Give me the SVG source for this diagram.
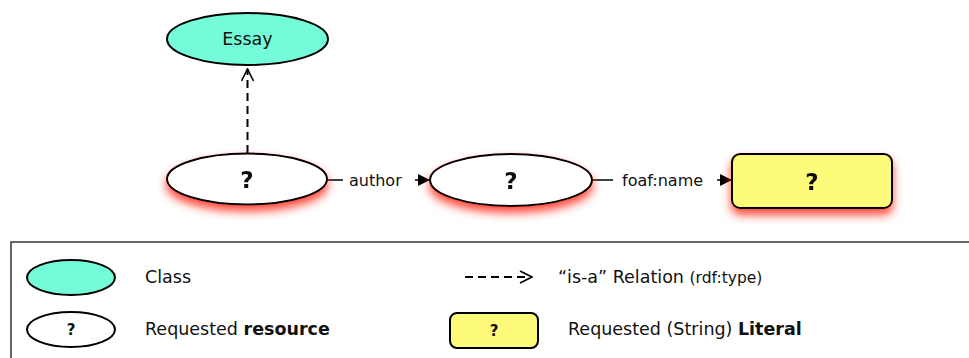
<svg xmlns="http://www.w3.org/2000/svg" width="969" height="358" viewBox="0 0 969 358">
<defs>
<filter id="glow" x="-20%" y="-40%" width="140%" height="200%">
<feGaussianBlur in="SourceAlpha" stdDeviation="5"/>
<feOffset dx="0" dy="6" result="b"/>
<feFlood flood-color="#ff2a1a" flood-opacity="0.85"/>
<feComposite in2="b" operator="in" result="s"/>
<feMerge><feMergeNode in="s"/><feMergeNode in="SourceGraphic"/></feMerge>
</filter>
<marker id="tri" viewBox="0 0 10 10" refX="10" refY="5" markerWidth="15" markerHeight="12" markerUnits="userSpaceOnUse" orient="auto">
<path d="M0,0 L10,5 L0,10 z" fill="#000"/>
</marker>
<marker id="open" viewBox="0 0 14 14" refX="13" refY="7" markerWidth="14" markerHeight="14" markerUnits="userSpaceOnUse" orient="auto">
<path d="M1,1 L13,7 L1,13" fill="none" stroke="#000" stroke-width="1.6"/>
</marker>
</defs>
<style>
.t{font-family:"DejaVu Sans","Liberation Sans",sans-serif;font-size:16px;fill:#111}
.lg{font-size:17.5px}
.sm{font-size:15.5px}
.q{font-family:"DejaVu Sans","Liberation Sans",sans-serif;font-size:23px;font-weight:bold;fill:#111;text-anchor:middle}
.qs{font-family:"DejaVu Sans","Liberation Sans",sans-serif;font-size:15px;font-weight:bold;fill:#111;text-anchor:middle}
.cls{fill:#74fcd8;stroke:#000;stroke-width:2}
.res{fill:#fff;stroke:#000;stroke-width:2}
.lit{fill:#fefb7a;stroke:#000;stroke-width:2}
.ln{stroke:#000;stroke-width:1.5;fill:none}
.dash{stroke:#000;stroke-width:2;fill:none;stroke-dasharray:8,5}
</style>
<g id="connectors">
<path class="dash" d="M247.5,153 V69" marker-end="url(#open)"/>
<path class="ln" d="M327,180 H343"/>
<text class="t" x="349" y="186">author</text>
<path class="ln" d="M415,180 H430" marker-end="url(#tri)"/>
<path class="ln" d="M592,180 H613"/>
<text class="t" x="622" y="186">foaf:name</text>
<path class="ln" d="M717,180 H732" marker-end="url(#tri)"/>
</g>
<g id="essay">
<ellipse class="cls" cx="247.5" cy="39" rx="80.5" ry="26"/>
<text class="t lg" x="247.5" y="45" text-anchor="middle">Essay</text>
</g>
<g id="res1" filter="url(#glow)">
<ellipse class="res" cx="247" cy="179" rx="80" ry="25.5"/>
<text class="q" x="247" y="188">?</text>
</g>
<g id="res2" filter="url(#glow)">
<ellipse class="res" cx="511" cy="180" rx="81" ry="26"/>
<text class="q" x="511" y="189">?</text>
</g>
<g id="literal" filter="url(#glow)">
<rect class="lit" x="732" y="154" width="160" height="54" rx="8"/>
<text class="q" x="812" y="190">?</text>
</g>
<g id="legend">
<path d="M11,360 V242 H975" fill="none" stroke="#333" stroke-width="1.5"/>
<ellipse class="cls" cx="71" cy="277.5" rx="44" ry="17.5"/>
<text class="t lg" x="145" y="283">Class</text>
<ellipse class="res" cx="71" cy="329.5" rx="44" ry="17.5"/>
<text class="qs" x="71" y="335">?</text>
<text class="t lg" x="145" y="335">Requested <tspan font-weight="bold">resource</tspan></text>
<path class="dash" d="M465,277 H532" stroke-width="1.5" marker-end="url(#open)"/>
<text class="t lg" x="558" y="283">“is-a” Relation <tspan class="sm">(rdf:type)</tspan></text>
<rect class="lit" x="450" y="313" width="88" height="35" rx="7" stroke-width="1.5"/>
<text class="qs" x="494" y="336">?</text>
<text class="t lg" x="568" y="335">Requested (String) <tspan font-weight="bold">Literal</tspan></text>
</g>
</svg>
